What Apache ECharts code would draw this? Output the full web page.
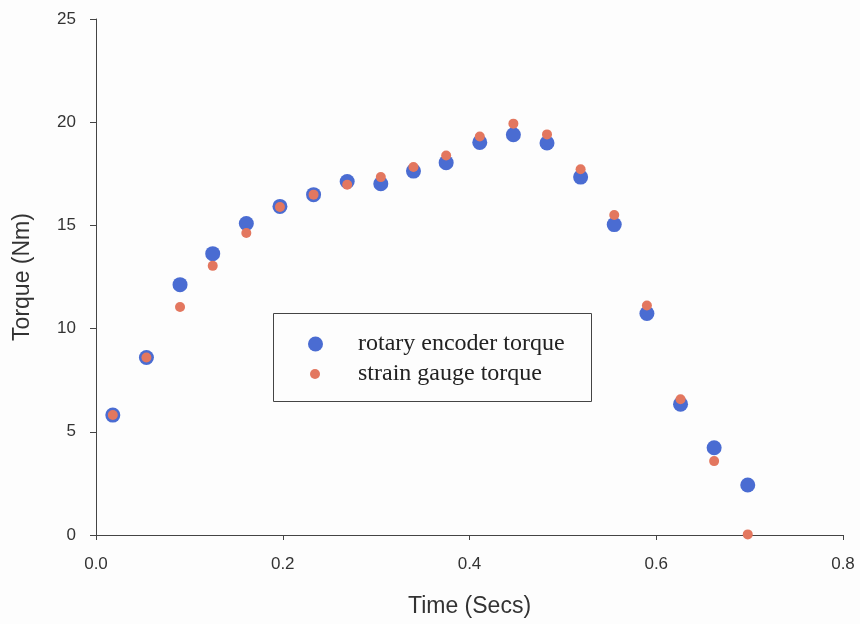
<!DOCTYPE html>
<html><head><meta charset="utf-8">
<script src="https://cdn.jsdelivr.net/npm/echarts@6/dist/echarts.min.js"></script>
<style>html,body{margin:0;padding:0;background:#fdfdfd}#c{width:860px;height:624px}</style>
</head><body><div id="c"></div>
<script>
const times = [0.018,0.054,0.090,0.125,0.161,0.197,0.233,0.269,0.305,0.340,0.375,0.411,0.447,0.483,0.519,0.555,0.590,0.626,0.662,0.698];
const encoderTorque = [5.81,8.60,12.13,13.63,15.09,15.92,16.49,17.13,17.02,17.63,18.04,19.02,19.39,18.99,17.34,15.04,10.73,6.34,4.23,2.42];
const strainTorque = [5.81,8.60,11.05,13.04,14.63,15.89,16.49,16.97,17.34,17.83,18.39,19.31,19.93,19.41,17.72,15.50,11.12,6.58,3.58,0.03];
const seriesNames = ['rotary encoder torque','strain gauge torque'];
const xTicks = [0,0.2,0.4,0.6,0.8];
const yTicks = [0,5,10,15,20,25];

const chart = echarts.init(document.getElementById('c'));
const axisCol = '#444';
const sans = 'Liberation Sans, Arial, sans-serif';
const serif = 'Liberation Serif, Times New Roman, serif';
chart.setOption({
  backgroundColor:'#fdfdfd',
  animation:false,
  grid:{left:96,right:17,top:19,bottom:89},
  xAxis:{type:'value',min:xTicks[0],max:xTicks[xTicks.length-1],interval:0.2,
    name:'Time (Secs)',nameLocation:'middle',nameGap:60,
    nameTextStyle:{color:'#333',fontFamily:sans,fontSize:23},
    axisLine:{show:true,lineStyle:{color:axisCol,width:1}},
    axisTick:{show:true,inside:false,length:5,lineStyle:{color:axisCol}},
    splitLine:{show:false},
    axisLabel:{margin:21,formatter:v=>v.toFixed(1),color:'#333',fontFamily:sans,fontSize:17}},
  yAxis:{type:'value',min:yTicks[0],max:yTicks[yTicks.length-1],interval:5,
    name:'Torque (Nm)',nameLocation:'middle',nameGap:62,nameRotate:90,
    nameTextStyle:{color:'#333',fontFamily:sans,fontSize:23},
    axisLine:{show:true,lineStyle:{color:axisCol,width:1}},
    axisTick:{show:true,inside:false,length:6,lineStyle:{color:axisCol}},
    splitLine:{show:false},
    axisLabel:{margin:20,color:'#333',fontFamily:sans,fontSize:17}},
  graphic:[{type:'rect',left:273,top:313,shape:{width:318,height:88},
    style:{fill:'#fdfdfd',stroke:'#444',lineWidth:1},z:10}],
  legend:[
    {data:[{name:seriesNames[0],icon:'circle'}],left:308,top:332,itemWidth:15,itemHeight:15,itemGap:0,padding:0,
     textStyle:{fontFamily:serif,fontSize:24,color:'#222',padding:[0,0,0,30]},z:11},
    {data:[{name:seriesNames[1],icon:'circle'}],left:310,top:362,itemWidth:10,itemHeight:10,itemGap:0,padding:0,
     textStyle:{fontFamily:serif,fontSize:24,color:'#222',padding:[0,0,0,33]},z:11}
  ],
  series:[
    {name:seriesNames[0],type:'scatter',symbol:'circle',symbolSize:15,
     itemStyle:{color:'#4a6cd2',opacity:1},
     data:times.map((t,i)=>[t,encoderTorque[i]])},
    {name:seriesNames[1],type:'scatter',symbol:'circle',symbolSize:10,
     itemStyle:{color:'#e3775f',opacity:1},
     data:times.map((t,i)=>[t,strainTorque[i]])}
  ]
});
</script></body></html>
